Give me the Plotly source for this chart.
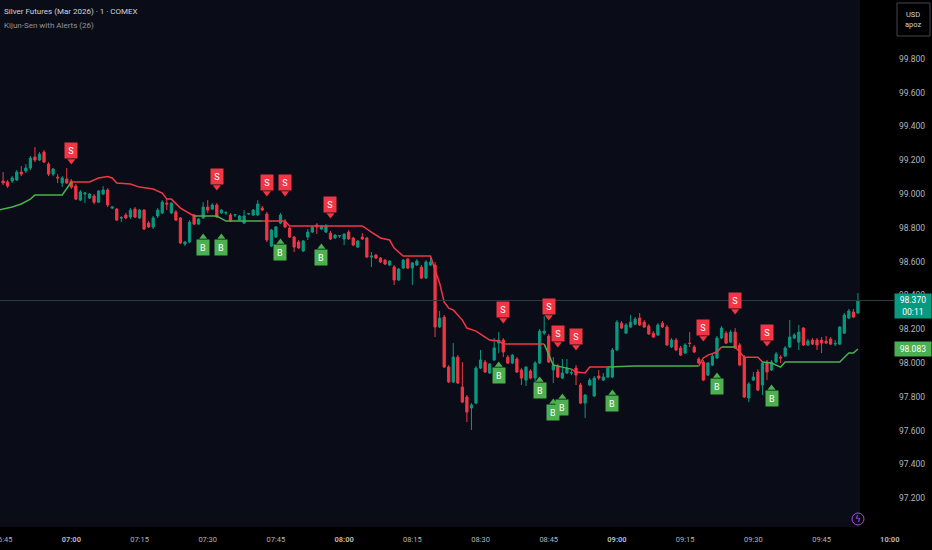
import numpy as np
import pandas as pd
import plotly.graph_objects as go

# 1-minute bars from 06:45 (Silver Futures, Mar 2026)
opens = [99.077, 99.071, 99.077, 99.083, 99.130, 99.136, 99.154, 99.219, 99.201, 99.248,
         99.177, 99.118, 99.100, 99.065, 99.089, 99.077, 99.047, 98.964, 99.000, 98.976,
         98.988, 98.952, 99.000, 99.024, 98.917, 98.911, 98.858, 98.876, 98.864, 98.911,
         98.858, 98.905, 98.828, 98.805, 98.870, 98.888, 98.946, 98.888, 98.894, 98.858,
         98.704, 98.716, 98.876, 98.822, 98.858, 98.923, 98.911, 98.935, 98.888, 98.888,
         98.876, 98.876, 98.846, 98.828, 98.882, 98.876, 98.876, 98.917, 98.882, 98.692,
         98.746, 98.828, 98.834, 98.799, 98.746, 98.716, 98.663, 98.746, 98.775, 98.817,
         98.793, 98.775, 98.769, 98.740, 98.752, 98.734, 98.775, 98.740, 98.686, 98.746,
         98.740, 98.627, 98.639, 98.621, 98.609, 98.580, 98.568, 98.491, 98.562, 98.615,
         98.562, 98.580, 98.568, 98.503, 98.580, 98.580, 98.213, 98.272, 97.976, 97.888,
         98.035, 97.858, 97.799, 97.734, 97.763, 97.970, 98.006, 97.941, 98.018, 98.118,
         98.136, 98.035, 98.000, 98.024, 97.959, 97.899, 97.953, 97.911, 98.000, 98.177,
         98.160, 97.959, 97.982, 97.911, 97.941, 97.941, 97.970, 97.870, 97.763, 97.870,
         97.805, 97.923, 97.899, 97.917, 97.917, 98.077, 98.236, 98.177, 98.213, 98.230,
         98.266, 98.242, 98.219, 98.177, 98.166, 98.236, 98.213, 98.095, 98.136, 98.089,
         98.059, 98.118, 98.095, 98.024, 98.006, 97.929, 97.988, 98.030, 98.148, 98.177,
         98.124, 98.183, 98.107, 98.035, 97.793, 97.899, 97.947, 97.870, 98.006, 97.959,
         98.006, 98.035, 98.041, 98.095, 98.148, 98.124, 98.207, 98.107, 98.136, 98.136,
         98.136, 98.130, 98.142, 98.112, 98.112, 98.177, 98.266, 98.302, 98.296]
highs = [99.130, 99.083, 99.106, 99.142, 99.166, 99.177, 99.225, 99.278, 99.248, 99.260,
         99.189, 99.154, 99.118, 99.106, 99.154, 99.089, 99.059, 99.024, 99.012, 99.006,
         99.000, 99.024, 99.047, 99.035, 98.929, 98.917, 98.870, 98.888, 98.917, 98.923,
         98.911, 98.911, 98.840, 98.870, 98.917, 98.964, 98.970, 98.952, 98.905, 98.864,
         98.722, 98.846, 98.882, 98.858, 98.952, 98.964, 98.946, 98.946, 98.911, 98.899,
         98.888, 98.882, 98.876, 98.905, 98.888, 98.911, 98.964, 98.929, 98.894, 98.793,
         98.811, 98.888, 98.852, 98.805, 98.752, 98.728, 98.728, 98.793, 98.811, 98.828,
         98.817, 98.822, 98.781, 98.763, 98.757, 98.769, 98.787, 98.746, 98.728, 98.769,
         98.746, 98.657, 98.645, 98.627, 98.615, 98.609, 98.580, 98.562, 98.615, 98.621,
         98.598, 98.615, 98.580, 98.609, 98.621, 98.598, 98.308, 98.284, 97.988, 98.118,
         98.047, 98.006, 97.811, 97.763, 97.982, 98.077, 98.018, 98.000, 98.148, 98.183,
         98.148, 98.047, 98.053, 98.035, 97.970, 97.982, 97.964, 98.012, 98.201, 98.278,
         98.172, 98.035, 97.994, 98.024, 98.024, 97.959, 97.988, 97.882, 97.817, 97.911,
         97.923, 97.959, 97.941, 97.982, 98.089, 98.254, 98.248, 98.236, 98.284, 98.272,
         98.296, 98.254, 98.230, 98.189, 98.236, 98.248, 98.225, 98.148, 98.148, 98.101,
         98.118, 98.183, 98.107, 98.035, 98.018, 98.006, 98.053, 98.160, 98.219, 98.189,
         98.195, 98.207, 98.118, 98.047, 97.888, 97.947, 97.964, 98.012, 98.018, 98.018,
         98.065, 98.047, 98.101, 98.254, 98.177, 98.225, 98.213, 98.142, 98.148, 98.148,
         98.154, 98.160, 98.154, 98.136, 98.219, 98.296, 98.320, 98.320, 98.414]
lows = [99.053, 99.035, 99.065, 99.077, 99.106, 99.124, 99.142, 99.189, 99.195, 99.183,
        99.106, 99.106, 99.065, 99.041, 99.059, 99.030, 98.964, 98.958, 98.946, 98.970,
        98.940, 98.946, 98.994, 98.923, 98.911, 98.840, 98.834, 98.852, 98.852, 98.858,
        98.852, 98.787, 98.799, 98.793, 98.858, 98.882, 98.905, 98.882, 98.840, 98.704,
        98.692, 98.710, 98.817, 98.817, 98.852, 98.888, 98.905, 98.858, 98.882, 98.876,
        98.834, 98.864, 98.840, 98.822, 98.876, 98.870, 98.870, 98.899, 98.716, 98.686,
        98.740, 98.822, 98.799, 98.740, 98.657, 98.675, 98.657, 98.728, 98.769, 98.763,
        98.787, 98.769, 98.728, 98.734, 98.740, 98.698, 98.728, 98.692, 98.681, 98.728,
        98.621, 98.568, 98.615, 98.592, 98.580, 98.574, 98.462, 98.485, 98.556, 98.556,
        98.462, 98.574, 98.497, 98.497, 98.574, 98.154, 98.207, 97.971, 97.882, 97.882,
        97.876, 97.763, 97.651, 97.604, 97.757, 97.964, 97.941, 97.935, 98.012, 98.059,
        98.035, 97.994, 97.994, 97.941, 97.870, 97.864, 97.905, 97.864, 97.994, 98.166,
        98.000, 97.882, 97.911, 97.905, 97.935, 97.929, 97.870, 97.757, 97.675, 97.864,
        97.799, 97.899, 97.893, 97.911, 97.911, 98.071, 98.201, 98.172, 98.207, 98.225,
        98.219, 98.207, 98.166, 98.148, 98.160, 98.207, 98.101, 98.089, 98.071, 98.041,
        98.053, 98.095, 98.059, 97.994, 97.893, 97.923, 97.982, 98.024, 98.142, 98.112,
        98.118, 98.083, 97.982, 97.793, 97.769, 97.893, 97.834, 97.811, 97.899, 97.953,
        98.000, 98.000, 98.035, 98.089, 98.142, 98.077, 98.101, 98.101, 98.107, 98.077,
        98.059, 98.112, 98.107, 98.101, 98.107, 98.172, 98.260, 98.266, 98.290]
closes = [99.065, 99.047, 99.095, 99.130, 99.118, 99.154, 99.213, 99.201, 99.236, 99.189,
          99.118, 99.148, 99.095, 99.095, 99.065, 99.041, 98.970, 99.012, 99.006, 99.000,
          98.952, 99.018, 99.024, 98.935, 98.923, 98.846, 98.860, 98.858, 98.905, 98.864,
          98.905, 98.793, 98.805, 98.858, 98.905, 98.952, 98.941, 98.946, 98.846, 98.710,
          98.716, 98.834, 98.822, 98.852, 98.923, 98.905, 98.935, 98.864, 98.905, 98.890,
          98.840, 98.878, 98.870, 98.870, 98.884, 98.905, 98.941, 98.905, 98.728, 98.787,
          98.805, 98.876, 98.805, 98.746, 98.686, 98.681, 98.722, 98.775, 98.805, 98.805,
          98.811, 98.811, 98.734, 98.757, 98.754, 98.763, 98.734, 98.698, 98.722, 98.734,
          98.627, 98.633, 98.621, 98.598, 98.586, 98.603, 98.491, 98.556, 98.609, 98.562,
          98.592, 98.603, 98.503, 98.598, 98.598, 98.213, 98.266, 97.976, 97.888, 98.035,
          97.882, 97.769, 97.710, 97.752, 97.970, 98.018, 97.947, 97.994, 98.089, 98.136,
          98.065, 98.000, 98.047, 97.947, 97.911, 97.976, 97.911, 98.000, 98.189, 98.189,
          98.006, 97.988, 97.917, 97.941, 97.970, 97.943, 97.929, 97.763, 97.811, 97.899,
          97.911, 97.911, 97.917, 97.970, 98.077, 98.242, 98.207, 98.225, 98.242, 98.260,
          98.225, 98.213, 98.172, 98.154, 98.225, 98.213, 98.107, 98.136, 98.077, 98.047,
          98.107, 98.116, 98.065, 98.000, 97.899, 98.000, 98.041, 98.148, 98.207, 98.118,
          98.183, 98.089, 97.988, 97.799, 97.876, 97.917, 97.840, 98.000, 97.947, 98.006,
          98.053, 98.030, 98.089, 98.154, 98.166, 98.183, 98.107, 98.130, 98.112, 98.107,
          98.118, 98.118, 98.112, 98.116, 98.213, 98.284, 98.308, 98.272, 98.370]

# Kijun-Sen (26) line, bar index -> value, split by colour (None = gap)
kijun_green_idx = [-1, 0, 2, 4, 6, 7, 13, 15, None,
                   42, 47, 49, 57, None,
                   119, 120, 121, 123, 125, None,
                   133, 139, 153, None,
                   158, 161, None,
                   167, 169, 171, 172, 184, 185, 186, 187, 188]
kijun_green_val = [98.905, 98.911, 98.923, 98.941, 98.970, 98.994, 98.994, 99.071, None,
                   98.870, 98.870, 98.840, 98.840, None,
                   98.112, 98.047, 97.988, 97.976, 97.964, None,
                   97.976, 97.982, 97.982, None,
                   98.095, 98.095, None,
                   98.006, 98.000, 97.976, 98.006, 98.006, 98.035, 98.059, 98.059, 98.083]
kijun_red_idx = [15, 19, 21, 23, 24, 25, 28, 30, 33, 35, 36, 37, 39, 41, 42, None,
                 57, 62, 63, 79, 81, 83, 85, 86, 88, 94, 95, 96, 97, 98, 99, 100, 101,
                 102, 104, 106, 107, 109, 110, 119, None,
                 125, 126, 128, 129, 133, None,
                 153, 154, 155, 157, 158, None,
                 161, 162, 163, 166, 167]
kijun_red_val = [99.071, 99.071, 99.095, 99.104, 99.095, 99.065, 99.059, 99.041, 99.030,
                 99.006, 98.970, 98.970, 98.917, 98.888, 98.870, None,
                 98.840, 98.840, 98.811, 98.811, 98.775, 98.740, 98.728, 98.680, 98.633,
                 98.633, 98.550, 98.473, 98.361, 98.325, 98.314, 98.284, 98.254, 98.207,
                 98.189, 98.154, 98.136, 98.130, 98.112, 98.112, None,
                 97.964, 97.947, 97.941, 97.976, 97.976, None,
                 97.982, 98.030, 98.047, 98.065, 98.095, None,
                 98.095, 98.065, 98.035, 98.035, 98.006]

# alert labels: bar index and price of the label pointer
sell_idx = [15, 47, 58, 62, 72, 110, 120, 122, 126, 154, 161, 168]
sell_px = [99.195, 99.041, 99.006, 99.006, 98.876, 98.254, 98.272, 98.112, 98.095,
           98.148, 98.308, 98.118]
buy_idx = [44, 48, 61, 70, 109, 118, 121, 123, 134, 157, 169]
buy_px = [98.746, 98.746, 98.716, 98.686, 97.988, 97.899, 97.769, 97.799, 97.823,
          97.923, 97.852]

price_ticks = [97.2, 97.4, 97.6, 97.8, 98.0, 98.2, 98.4, 98.6, 98.8, 99.0, 99.2, 99.4,
               99.6, 99.8]
time_ticks = ["06:45", "07:00", "07:15", "07:30", "07:45", "08:00", "08:15", "08:30",
              "08:45", "09:00", "09:15", "09:30", "09:45", "10:00"]
last_price = 98.370
kijun_last = 98.083

day = "2026-01-14 "
t0 = pd.Timestamp(day + "06:45")
times = t0 + pd.to_timedelta(np.arange(len(opens)), unit="min")


def idx_to_time(lst):
    return [None if i is None else t0 + pd.Timedelta(minutes=i) for i in lst]


UP = "#089981"
DOWN = "#f23645"
KGREEN = "#4caf50"
TXT = "#b2b5be"
FONT = "Roboto"

fig = go.Figure()

fig.add_trace(go.Candlestick(
    x=times, open=opens, high=highs, low=lows, close=closes,
    increasing=dict(line=dict(color=UP, width=1), fillcolor=UP),
    decreasing=dict(line=dict(color=DOWN, width=1), fillcolor=DOWN),
    whiskerwidth=0, hoverinfo="skip", showlegend=False,
))

fig.add_trace(go.Scatter(x=idx_to_time(kijun_green_idx), y=kijun_green_val, mode="lines",
                         line=dict(color=KGREEN, width=1.5), connectgaps=False,
                         hoverinfo="skip", showlegend=False))
fig.add_trace(go.Scatter(x=idx_to_time(kijun_red_idx), y=kijun_red_val, mode="lines",
                         line=dict(color=DOWN, width=1.5), connectgaps=False,
                         hoverinfo="skip", showlegend=False))

# label pointers
fig.add_trace(go.Scatter(x=idx_to_time(sell_idx), y=sell_px, mode="markers",
                         marker=dict(symbol="triangle-down", size=7, color=DOWN,
                                     line=dict(width=0)),
                         hoverinfo="skip", showlegend=False))
fig.add_trace(go.Scatter(x=idx_to_time(buy_idx), y=buy_px, mode="markers",
                         marker=dict(symbol="triangle-up", size=7, color=KGREEN,
                                     line=dict(width=0)),
                         hoverinfo="skip", showlegend=False))

annotations = []
for i, p in zip(sell_idx, sell_px):
    annotations.append(dict(x=t0 + pd.Timedelta(minutes=i), y=p, xref="x", yref="y",
                            text="S", showarrow=False, yanchor="bottom", yshift=2,
                            bgcolor=DOWN, width=10, height=13, borderpad=1,
                            font=dict(color="white", size=9, family=FONT)))
for i, p in zip(buy_idx, buy_px):
    annotations.append(dict(x=t0 + pd.Timedelta(minutes=i), y=p, xref="x", yref="y",
                            text="B", showarrow=False, yanchor="top", yshift=-2,
                            bgcolor=KGREEN, width=10, height=13, borderpad=1,
                            font=dict(color="white", size=9, family=FONT)))

# header texts
annotations.append(dict(x=0.002, y=1.0, xref="paper", yref="paper", xanchor="left",
                        yanchor="top", yshift=-5, showarrow=False,
                        text="Silver Futures (Mar 2026) · 1 · COMEX",
                        font=dict(color="#d1d4dc", size=8, family=FONT)))
annotations.append(dict(x=0.002, y=1.0, xref="paper", yref="paper", xanchor="left",
                        yanchor="top", yshift=-19, showarrow=False,
                        text="Kijun-Sen with Alerts (26)",
                        font=dict(color="#8f929b", size=8, family=FONT)))

# right-axis labels
annotations.append(dict(x=1.0, y=last_price, xref="paper", yref="y", xanchor="left",
                        yanchor="middle", yshift=-5, xshift=0, showarrow=False,
                        text="98.370<br>00:11", bgcolor=UP, width=34, height=22,
                        borderpad=1, align="center",
                        font=dict(color="white", size=8.5, family=FONT)))
annotations.append(dict(x=1.0, y=kijun_last, xref="paper", yref="y", xanchor="left",
                        yanchor="middle", xshift=0, showarrow=False,
                        text="98.083", bgcolor=KGREEN, width=34, height=12,
                        borderpad=1, align="center",
                        font=dict(color="white", size=8.5, family=FONT)))
annotations.append(dict(x=913.5 / 894, y=1 - 19.5 / 527, xref="paper", yref="paper",
                        xanchor="center", yanchor="middle", showarrow=False,
                        text="USD<br>apoz", align="center",
                        font=dict(color="#d1d4dc", size=7.5, family=FONT)))
annotations.append(dict(x=858 / 894, y=1 - 519 / 527, xref="paper", yref="paper",
                        xanchor="center", yanchor="middle", showarrow=False, text="ϟ",
                        font=dict(color="#c058e0", size=9, family="DejaVu Sans")))

shapes = [
    # session background
    dict(type="rect", xref="x", yref="paper", x0=t0 - pd.Timedelta(minutes=2),
         x1=t0 + pd.Timedelta(minutes=188.5), y0=0, y1=1, fillcolor="#0a0d17",
         line=dict(width=0), layer="below"),
    # last price line
    dict(type="line", xref="paper", yref="y", x0=0, x1=1, y0=last_price, y1=last_price,
         line=dict(color="#2c3d44", width=1)),
    # currency box
    dict(type="rect", xref="paper", yref="paper", x0=897 / 894, x1=930 / 894,
         y0=1 - 36 / 527, y1=1 - 3 / 527, line=dict(color="#434651", width=1),
         fillcolor="#000000"),
    # lightning badge
    dict(type="circle", xref="paper", yref="paper", x0=852 / 894, x1=864 / 894,
         y0=1 - 525 / 527, y1=1 - 513 / 527, line=dict(color="#b048d8", width=1)),
]

tick_times = [pd.Timestamp(day + s) for s in time_ticks]
tick_text = ["<b>%s</b>" % s if s.endswith(":00") else s for s in time_ticks]

fig.update_layout(
    width=932, height=550,
    margin=dict(l=0, r=38, t=0, b=23, autoexpand=False),
    paper_bgcolor="#000000", plot_bgcolor="#000000",
    showlegend=False, hovermode=False,
    annotations=annotations, shapes=shapes,
    font=dict(family=FONT, color=TXT, size=8),
)
fig.update_xaxes(
    type="date", automargin=False,
    range=[t0 - pd.Timedelta(seconds=41), t0 + pd.Timedelta(seconds=11756)],
    rangeslider_visible=False,
    tickvals=tick_times, ticktext=tick_text,
    showgrid=False, zeroline=False, showline=False, ticks="",
    ticklabelstandoff=6, ticklabeloverflow="allow",
    tickfont=dict(color=TXT, size=7.5),
)
fig.update_yaxes(
    side="right", automargin=False, range=[97.030, 100.148],
    tickvals=price_ticks, ticktext=["%.3f" % v for v in price_ticks],
    showgrid=False, zeroline=False, showline=False, ticks="",
    ticklabelstandoff=4,
    tickfont=dict(color=TXT, size=8.5),
)

fig.write_html("out.html", config={"displayModeBar": False},
               post_script="document.body.style.margin='0';"
                           "document.body.style.background='#000';")
